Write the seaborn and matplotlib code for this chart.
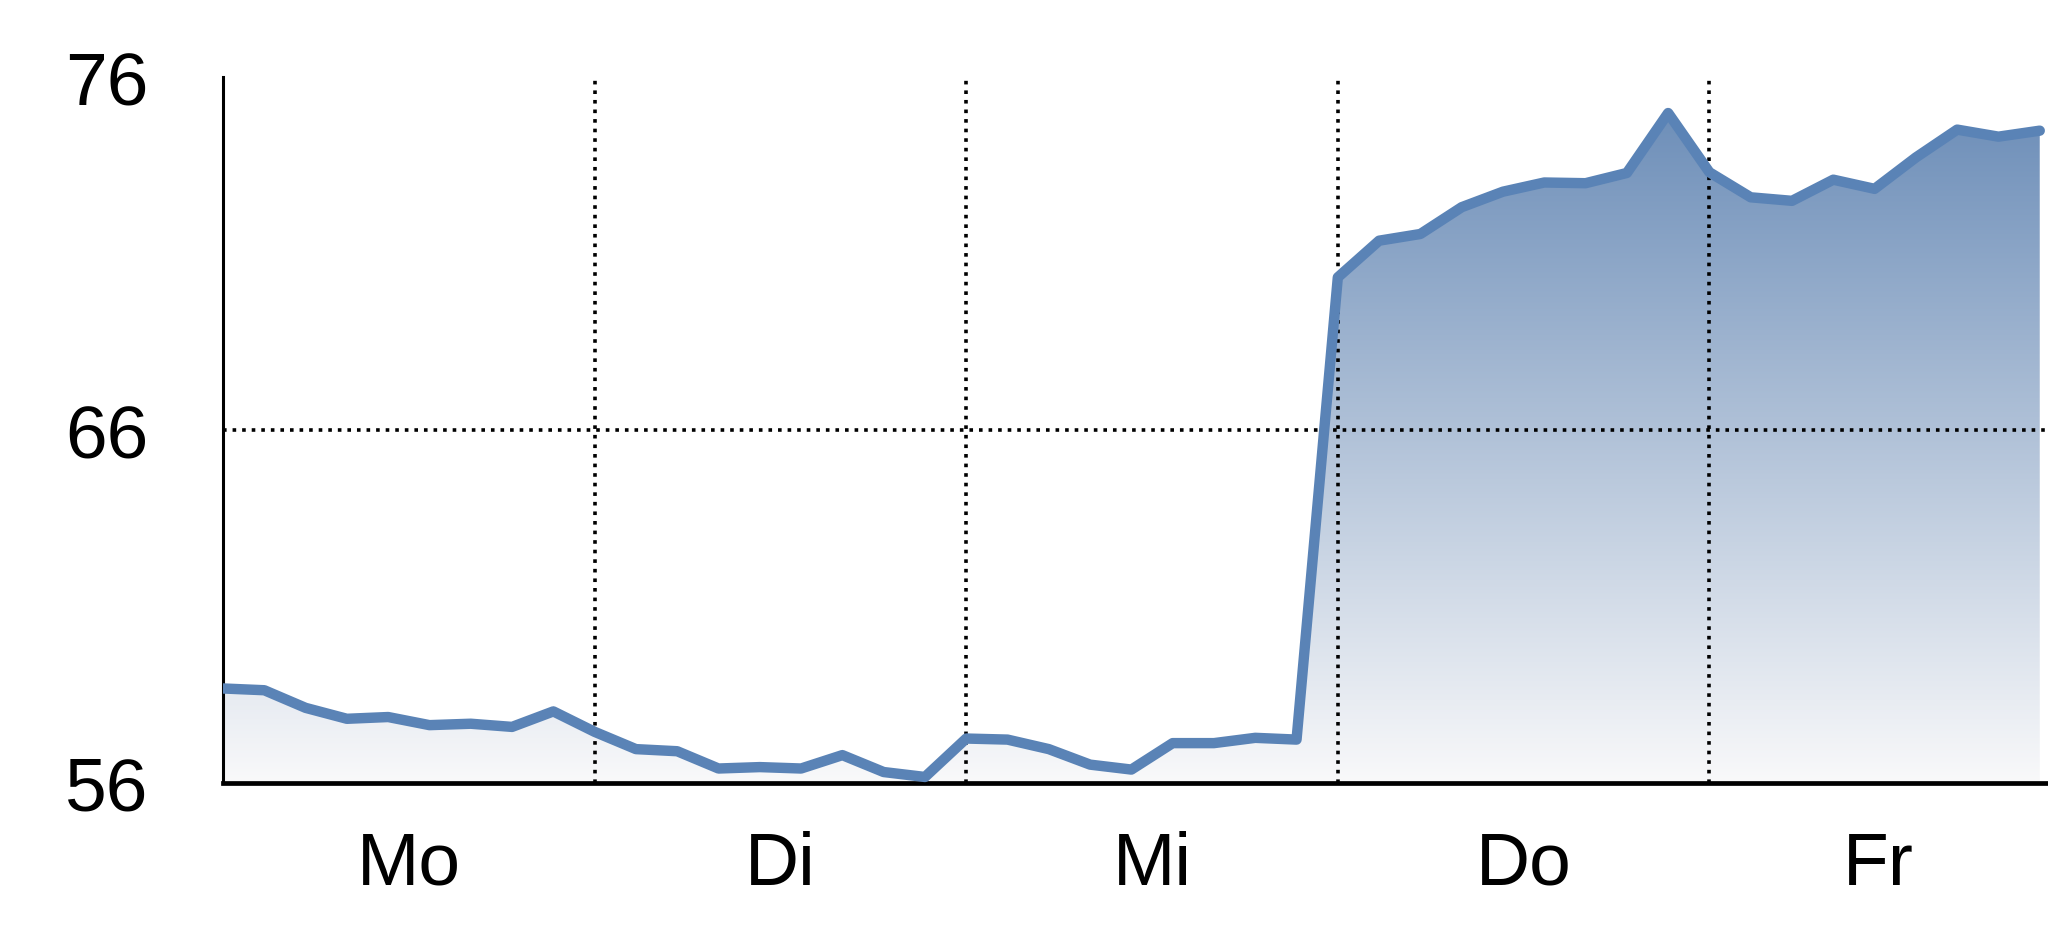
import numpy as np
import pandas as pd
import matplotlib
matplotlib.use("Agg")
import matplotlib.pyplot as plt
import seaborn as sns

# values, 9 points per day
mo = [58.67, 58.62, 58.12, 57.81, 57.86, 57.63, 57.67, 57.58, 58.02]
di = [57.44, 56.95, 56.89, 56.40, 56.44, 56.40, 56.78, 56.30, 56.16]
mi = [57.25, 57.22, 56.95, 56.51, 56.37, 57.12, 57.12, 57.27, 57.22]
do = [70.33, 71.37, 71.56, 72.32, 72.76, 73.02, 73.00, 73.29, 74.99]
fr = [73.31, 72.60, 72.50, 73.10, 72.84, 73.73, 74.52, 74.32, 74.49]

days = ["Mo", "Di", "Mi", "Do", "Fr"]
y_ticks = [56, 66, 76]

values = mo + di + mi + do + fr
df = pd.DataFrame({"t": np.arange(len(values)), "v": values})

sns.set_style("white")
plt.rcParams['font.family'] = ['Liberation Sans', 'DejaVu Sans']
plt.rcParams['text.color'] = 'black'
plt.rcParams['xtick.color'] = 'black'
plt.rcParams['ytick.color'] = 'black'

fig = plt.figure(figsize=(20.48, 9.37), dpi=100)
ax = fig.add_axes([0.1089, 0.1637, 0.8911, 0.7526])

xmax = 44.2
ax.set_xlim(0, xmax)
ax.set_ylim(56, 76)

# gradient fill under the line
line_col = "#5a83b6"
top_c = np.array([110, 143, 185]) / 255
bot_c = np.array([249, 249, 250]) / 255
vtop = max(values)
n = 256
fr_ = np.linspace(0, 1, n)[:, None]
grad = bot_c[None, :] * (1 - fr_) + top_c[None, :] * fr_
grad = grad[:, None, :]
im = ax.imshow(grad, extent=[0, len(values) - 1, 56, vtop], origin="lower",
               aspect="auto", zorder=1, interpolation="bilinear")
poly = ax.fill_between(df["t"], df["v"], 56, color="none", linewidth=0)
im.set_clip_path(poly.get_paths()[0], transform=ax.transData)

sns.lineplot(data=df, x="t", y="v", ax=ax, color=line_col, zorder=3)
for ln in ax.get_lines():
    ln.set_linewidth(7.5)
    ln.set_solid_capstyle("round")
    ln.set_solid_joinstyle("round")

# dotted grid
for xg in [9, 18, 27, 36]:
    ax.axvline(xg, color="black", ls=":", linewidth=2.6, zorder=2)
ax.axhline(66, color="black", ls=":", linewidth=2.6, zorder=2)

ax.spines["top"].set_visible(False)
ax.spines["right"].set_visible(False)
ax.spines["left"].set_linewidth(2.2)
ax.spines["bottom"].set_linewidth(3.4)
ax.spines["left"].set_color("black")
ax.spines["bottom"].set_color("black")

ax.set_yticks(y_ticks)
ax.set_yticklabels([str(v) for v in y_ticks])
ax.set_xticks([4.5, 13.5, 22.5, 31.5, (36 + xmax) / 2])
ax.set_xticklabels(days)
ax.tick_params(axis="y", length=0, pad=54, labelsize=54, labelcolor="black")
ax.tick_params(axis="x", length=0, pad=34, labelsize=54, labelcolor="black")
ax.set_xlabel("")
ax.set_ylabel("")

fig.savefig("out.png", dpi=100)
